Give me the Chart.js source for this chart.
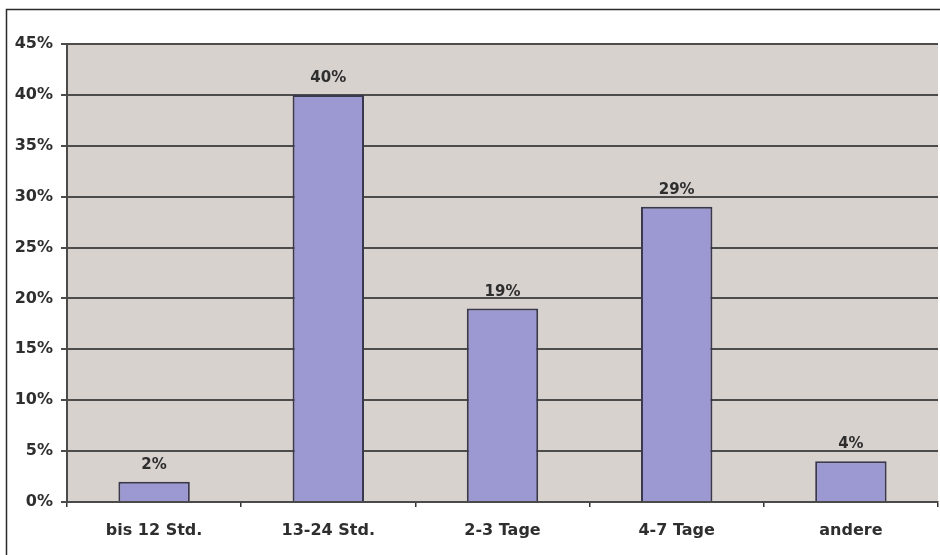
<!DOCTYPE html>
<html>
<head>
<meta charset="utf-8">
<script src="https://cdn.jsdelivr.net/npm/chart.js@4/dist/chart.umd.min.js"></script>
<style>
  html, body { margin: 0; padding: 0; background: #ffffff; }
  #wrap { width: 940px; height: 555px; position: relative; }
</style>
</head>
<body>
<div id="wrap"><canvas id="c" width="940" height="555"></canvas></div>
<script>
// Dauer bis zur Erledigung – Anteile je Kategorie
const categories = ['bis 12 Std.', '13-24 Std.', '2-3 Tage', '4-7 Tage', 'andere'];
const shares = [2, 40, 19, 29, 4];
const yTicks = [0, 5, 10, 15, 20, 25, 30, 35, 40, 45];

const FONT = '"DejaVu Sans", "Liberation Sans", sans-serif';
const TEXT = '#2e2e2e';

// Grey plot background, outer frame and value labels above the bars
const decor = {
  id: 'decor',
  beforeDraw(chart) {
    const { ctx, chartArea: a } = chart;
    ctx.save();
    ctx.fillStyle = '#d8d2cf';
    ctx.fillRect(a.left, a.top, a.right - a.left, a.bottom - a.top);
    ctx.strokeStyle = '#2a2a2a';
    ctx.lineWidth = 1.5;
    ctx.beginPath();
    ctx.moveTo(6.5, 560);
    ctx.lineTo(6.5, 9.5);
    ctx.lineTo(945, 9.5);
    ctx.stroke();
    ctx.restore();
  },
  afterDatasetsDraw(chart) {
    const { ctx } = chart;
    const meta = chart.getDatasetMeta(0);
    ctx.save();
    ctx.fillStyle = TEXT;
    ctx.font = 'bold 15px ' + FONT;
    ctx.textAlign = 'center';
    ctx.textBaseline = 'alphabetic';
    meta.data.forEach((bar, i) => {
      ctx.fillText(shares[i] + '%', bar.x, bar.y - 13);
    });
    ctx.restore();
  }
};

new Chart(document.getElementById('c'), {
  type: 'bar',
  data: {
    labels: categories,
    datasets: [{
      data: shares,
      backgroundColor: '#9c98d1',
      borderColor: '#3a384c',
      borderWidth: 2,
      categoryPercentage: 1,
      barPercentage: 0.41
    }]
  },
  options: {
    responsive: false,
    animation: false,
    layout: { padding: { top: 44, right: 2, left: 0, bottom: 0 } },
    plugins: { legend: { display: false }, tooltip: { enabled: false } },
    scales: {
      x: {
        offset: true,
        afterFit(s) { s.height = 53; },
        grid: {
          offset: true,
          drawOnChartArea: false,
          drawTicks: true,
          tickLength: 5,
          color: '#333333',
          lineWidth: 1.5
        },
        border: { color: '#4a4a4a', width: 2 },
        ticks: {
          color: TEXT,
          font: { family: FONT, size: 16, weight: 'bold' },
          padding: 14
        }
      },
      y: {
        min: 0,
        max: 45,
        afterFit(s) { s.width = 67; },
        afterBuildTicks(s) { s.ticks = yTicks.map(v => ({ value: v })); },
        grid: {
          color: '#4c4c4c',
          lineWidth: 2,
          tickLength: 6,
          drawTicks: true
        },
        border: { color: '#4a4a4a', width: 2 },
        ticks: {
          color: TEXT,
          font: { family: FONT, size: 16, weight: 'bold' },
          padding: 8,
          callback: v => v + '%'
        }
      }
    }
  },
  plugins: [decor]
});
</script>
</body>
</html>
